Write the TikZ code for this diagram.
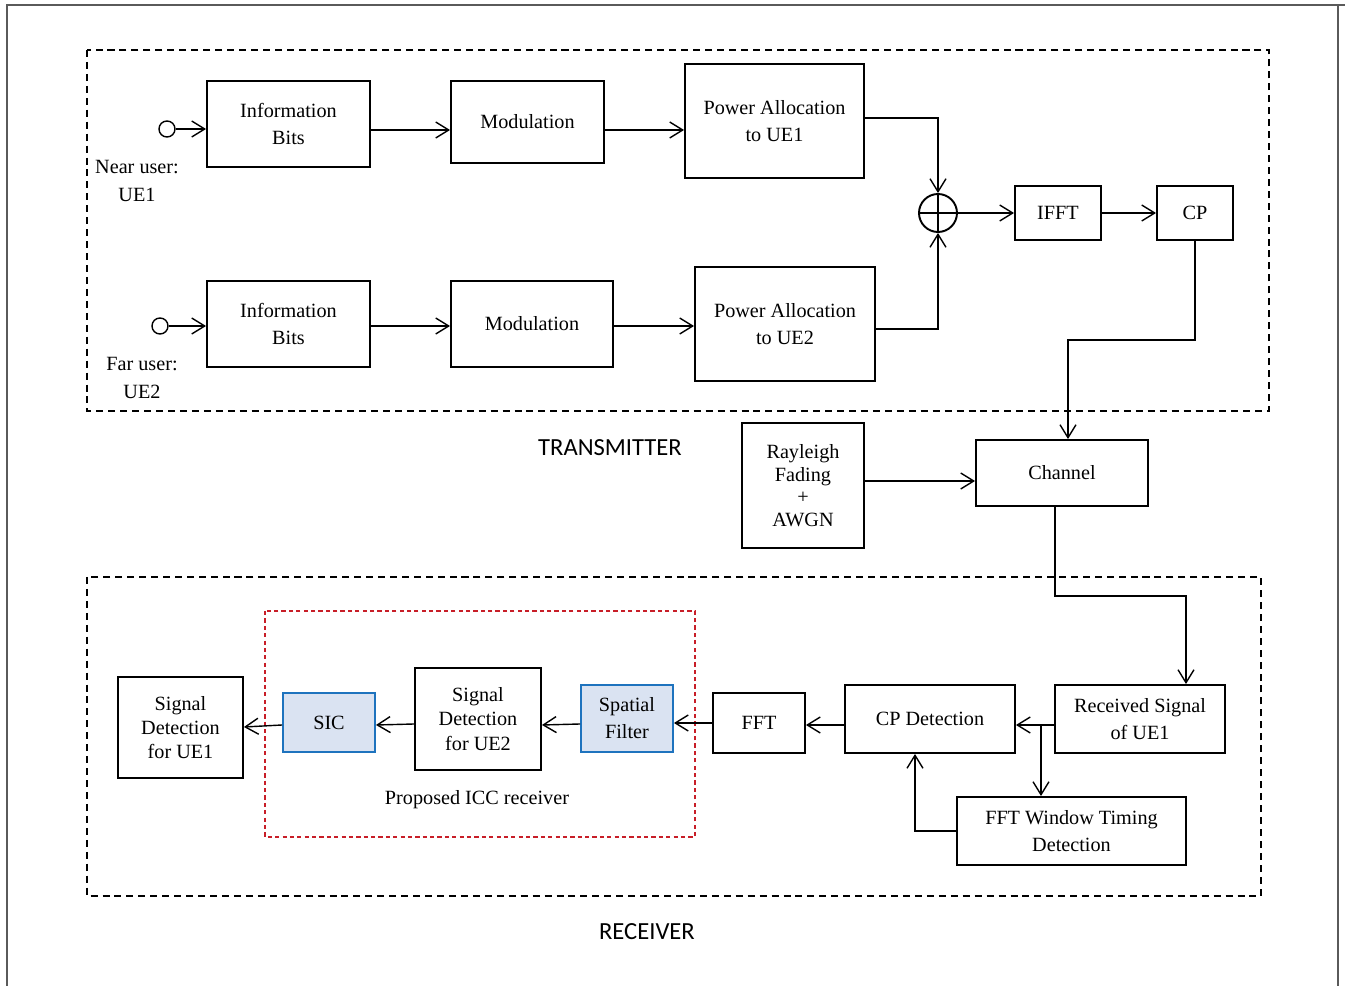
\documentclass[tikz,border=0pt]{standalone}
\usepackage{fontspec}
\setmainfont{Liberation Serif}
\newfontfamily\capfont{Carlito}
\usetikzlibrary{arrows.meta}
\definecolor{iccred}{RGB}{200,30,40}
\definecolor{sicfill}{RGB}{218,227,242}
\definecolor{sicdraw}{RGB}{30,115,190}
\definecolor{framegray}{RGB}{90,90,90}

\begin{document}
\begin{tikzpicture}[x=0.02cm, y=-0.02cm, >={Straight Barb[length=2.6mm,width=3.2mm]},
  font=\fontsize{11.5}{15.4}\selectfont,
  blk/.style={draw, line width=1.1pt, align=center, inner sep=0pt},
  blu/.style={blk, draw=sicdraw, fill=sicfill},
  port/.style={circle, draw, line width=0.8pt, minimum size=0.32cm, inner sep=0pt},
  wire/.style={->, line width=0.8pt},
  partlabel/.style={font=\capfont\fontsize{14}{16}\selectfont},
  group/.style={dash pattern=on 4pt off 2.8pt, line width=0.8pt}]
\useasboundingbox (0,0) rectangle (1347,986);

% frame
\draw[framegray, line width=0.8pt] (7,986) -- (7,5) -- (1345,5) (1338,5) -- (1338,986);

% transmitter
\draw[group] (87,50) rectangle (1269,411);
\node[partlabel] (txlabel) at (610,448) {TRANSMITTER};

\node[port] (in1) at (167,129) {};
\node[align=center] (near) at (137,181) {Near user:\\UE1};
\node[blk, minimum width=3.26cm, minimum height=1.72cm] (ib1) at (288.5,124) {Information\\Bits};
\node[blk, minimum width=3.06cm, minimum height=1.64cm] (mod1) at (527.5,122) {Modulation};
\node[blk, minimum width=3.58cm, minimum height=2.28cm] (pa1) at (774.5,121) {Power Allocation\\to UE1};

\node[port] (in2) at (160,326) {};
\node[align=center] (far) at (142,378) {Far user:\\UE2};
\node[blk, minimum width=3.26cm, minimum height=1.72cm] (ib2) at (288.5,324) {Information\\Bits};
\node[blk, minimum width=3.24cm, minimum height=1.72cm] (mod2) at (532,324) {Modulation};
\node[blk, minimum width=3.6cm, minimum height=2.28cm] (pa2) at (785,324) {Power Allocation\\to UE2};

\node[circle, draw, line width=1.1pt, minimum size=0.76cm, inner sep=0pt] (sum) at (938,213) {};
\draw[line width=1.1pt] (sum.north) -- (sum.south) (sum.west) -- (sum.east);
\node[blk, minimum width=1.72cm, minimum height=1.08cm] (ifft) at (1058,213) {IFFT};
\node[blk, minimum width=1.52cm, minimum height=1.08cm] (cp) at (1195,213) {CP};

\draw[wire] (in1.east) -- (in1.east -| ib1.west);
\draw[wire] (ib1.east |- 0,130) -- (mod1.west |- 0,130);
\draw[wire] (mod1.east |- 0,130) -- (pa1.west |- 0,130);
\draw[wire] (in2.east) -- (in2.east -| ib2.west);
\draw[wire] (ib2.east |- 0,326) -- (mod2.west |- 0,326);
\draw[wire] (mod2.east |- 0,326) -- (pa2.west |- 0,326);
\draw[wire] (pa1.east |- 0,118) -| (sum.north);
\draw[wire] (pa2.east |- 0,329) -| (sum.south);
\draw[wire] (sum.east) -- (ifft.west);
\draw[wire] (ifft.east) -- (cp.west);

% channel
\node[blk, minimum width=2.44cm, minimum height=2.5cm, font=\fontsize{11.5}{12.8}\selectfont] (ray) at (803,485.5) {Rayleigh\\Fading\\+\\AWGN};
\node[blk, minimum width=3.44cm, minimum height=1.32cm] (chan) at (1062,473) {Channel};
\draw[wire] (cp.south) -- (cp.south |- 0,340) -| (chan.north -| 1068,0);
\draw[wire] (ray.east |- 0,481) -- (chan.west |- 0,481);

% receiver
\draw[group] (87,577) rectangle (1261,896);
\draw[iccred, dash pattern=on 2.4pt off 1.8pt, line width=0.7pt] (265,611) rectangle (695,837);
\node[partlabel] (rxlabel) at (647,932) {RECEIVER};
\node (icc) at (477,800) {Proposed ICC receiver};

\node[blk, minimum width=3.4cm, minimum height=1.36cm] (rx) at (1140,719) {Received Signal\\of UE1};
\node[blk, minimum width=3.4cm, minimum height=1.36cm] (cpd) at (930,719) {CP Detection};
\node[blk, minimum width=4.58cm, minimum height=1.36cm] (fftw) at (1071.5,831) {FFT Window Timing\\Detection};
\node[blk, minimum width=1.84cm, minimum height=1.2cm] (fft) at (759,723) {FFT};
\node[blu, minimum width=1.84cm, minimum height=1.34cm] (sf) at (627,718.5) {Spatial\\Filter};
\node[blk, minimum width=2.52cm, minimum height=2.04cm, font=\fontsize{11.5}{13.8}\selectfont] (sd2) at (478,719) {Signal\\Detection\\for UE2};
\node[blu, minimum width=1.84cm, minimum height=1.18cm] (sic) at (329,722.5) {SIC};
\node[blk, minimum width=2.5cm, minimum height=2.02cm, font=\fontsize{11.5}{13.8}\selectfont] (sd1) at (180.5,727.5) {Signal\\Detection\\for UE1};

\draw[wire] (chan.south -| 1055,0) -- (1055,596) -| (rx.north -| 1186,0);
\draw[wire] (rx.west |- 0,725) -- (cpd.east |- 0,725);
\draw[wire] (1041,725) -- (fftw.north -| 1041,0);
\draw[wire] (fftw.west) -| (cpd.south -| 915,0);
\draw[wire] (cpd.west |- 0,725) -- (fft.east |- 0,725);
\draw[wire] (fft.west) -- (fft.west -| sf.east);
\draw[wire] (sf.west |- 0,724) -- (sd2.east |- 0,725);
\draw[wire] (sd2.west |- 0,724) -- (sic.east |- 0,725);
\draw[wire] (sic.west |- 0,725) -- (sd1.east |- 0,727);
\end{tikzpicture}
\end{document}
